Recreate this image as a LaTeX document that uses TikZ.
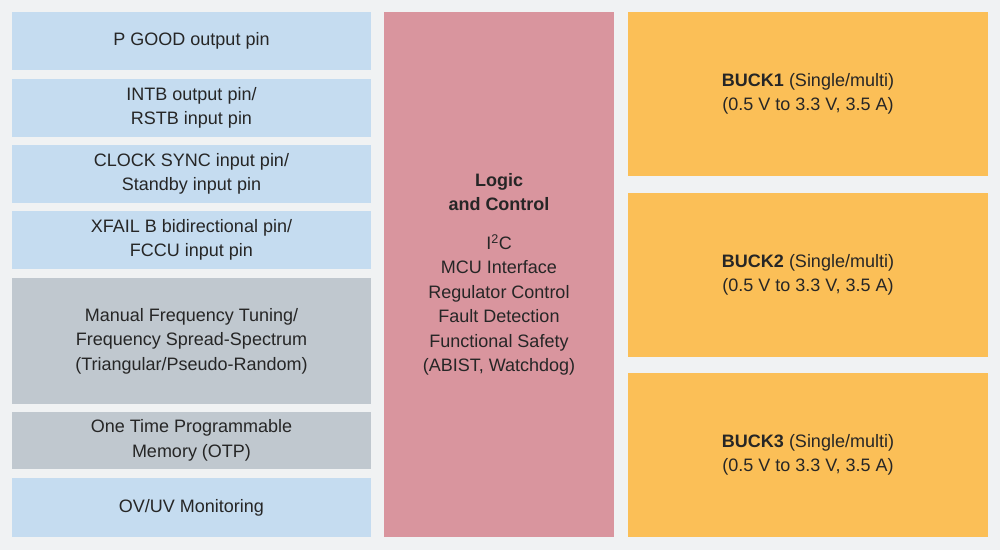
\documentclass[tikz,border=0pt]{standalone}
\usepackage{fontspec}
\setmainfont{Liberation Sans}
\definecolor{cbg}{RGB}{240,242,243}
\definecolor{cblue}{RGB}{197,220,240}
\definecolor{cgrey}{RGB}{192,200,207}
\definecolor{cpink}{RGB}{217,149,158}
\definecolor{corng}{RGB}{251,191,87}
\begin{document}
\begin{tikzpicture}[x=1pt,y=-1pt,
  box/.style={draw=none,inner sep=0pt,align=center,font=\fontsize{18}{24.5}\selectfont,text=black!85},
  blue/.style={fill=cblue},
  grey/.style={fill=cgrey},
  pink/.style={fill=cpink},
  orng/.style={fill=corng}]
\fill[cbg] (0,0) rectangle (1000,550);
\useasboundingbox (0,0) rectangle (1000,550);
\newcommand{\bx}[7]{\fill[#6] (#2,#3) rectangle (#4,#5); \node[box] (#1) at ({(#2+#4)/2},{(#3+#5)/2}) {#7};}
\bx{a}{12}{12}{371}{70}{blue}{P GOOD output pin}
\bx{b}{12}{79}{371}{137}{blue}{INTB output pin/\\RSTB input pin}
\bx{c}{12}{145}{371}{203}{blue}{CLOCK SYNC input pin/\\Standby input pin}
\bx{d}{12}{211}{371}{269}{blue}{XFAIL B bidirectional pin/\\FCCU input pin}
\bx{e}{12}{278}{371}{404}{grey}{Manual Frequency Tuning/\\Frequency Spread-Spectrum\\(Triangular/Pseudo-Random)}
\bx{f}{12}{412}{371}{469}{grey}{One Time Programmable\\Memory (OTP)}
\bx{g}{12}{478}{371}{537}{blue}{OV/UV Monitoring}
\bx{m}{384}{12}{614}{537}{pink}{\textbf{Logic}\\\textbf{and Control}\\[14pt]I\textsuperscript{2}C\\MCU Interface\\Regulator Control\\Fault Detection\\Functional Safety\\(ABIST, Watchdog)}
\bx{r1}{628}{12}{988}{176}{orng}{\textbf{BUCK1} (Single/multi)\\(0.5 V to 3.3 V, 3.5 A)}
\bx{r2}{628}{193}{988}{357}{orng}{\textbf{BUCK2} (Single/multi)\\(0.5 V to 3.3 V, 3.5 A)}
\bx{r3}{628}{373}{988}{537}{orng}{\textbf{BUCK3} (Single/multi)\\(0.5 V to 3.3 V, 3.5 A)}
\end{tikzpicture}
\end{document}
